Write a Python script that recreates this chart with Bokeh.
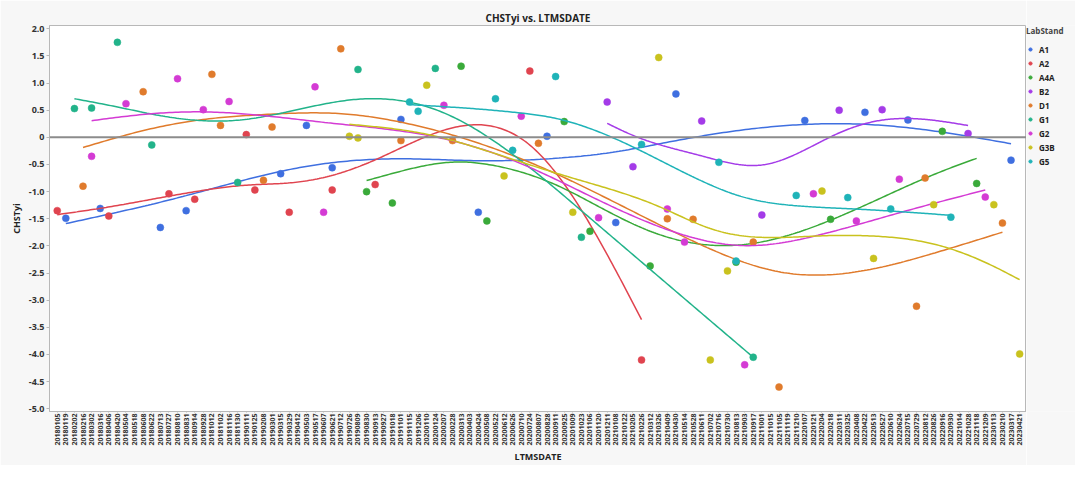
import numpy as np
from bokeh.plotting import figure
from bokeh.layouts import row
from bokeh.models import Range1d, FixedTicker, Span, Legend, LegendItem
from bokeh.embed import file_html
from bokeh.resources import INLINE

dates = [
    "20180105", "20180119", "20180202", "20180216", "20180302", "20180316", "20180406", "20180420",
    "20180504", "20180518", "20180608", "20180622", "20180713", "20180727", "20180810", "20180831",
    "20180914", "20180928", "20181012", "20181102", "20181116", "20181130",
    "20190111", "20190125", "20190208", "20190301", "20190315", "20190329", "20190412", "20190503",
    "20190517", "20190607", "20190621", "20190712", "20190726", "20190809", "20190830", "20190913",
    "20190927", "20191018", "20191101", "20191115", "20191206",
    "20200110", "20200124", "20200207", "20200228", "20200313", "20200403", "20200424", "20200508",
    "20200522", "20200612", "20200626", "20200710", "20200724", "20200807", "20200828", "20200911",
    "20200925", "20201009", "20201023", "20201106", "20201120", "20201211",
    "20210108", "20210122", "20210205", "20210226", "20210312", "20210326", "20210409", "20210430",
    "20210514", "20210528", "20210611", "20210702", "20210716", "20210730", "20210813", "20210903",
    "20210917", "20211001", "20211015", "20211105", "20211119", "20211210",
    "20220107", "20220121", "20220204", "20220218", "20220311", "20220325", "20220408", "20220422",
    "20220513", "20220527", "20220610", "20220624", "20220715", "20220729", "20220812", "20220826",
    "20220916", "20220930", "20221014", "20221028", "20221118", "20221209",
    "20230113", "20230210", "20230317", "20230421",
]

stands = ["A1", "A2", "A4A", "B2", "D1", "G1", "G2", "G3B", "G5"]
colors = ["#3f6fe0", "#e0444f", "#3aaa3a", "#a43be8", "#e07b2c",
          "#22b38a", "#d43bd4", "#c9c21e", "#1fb3b8"]

# x = index into dates, y = CHSTyi
A1_x = [1, 5, 12, 15, 26, 29, 32, 40, 49, 57, 65, 72, 87, 94, 99, 111]
A1_y = [-1.49, -1.31, -1.66, -1.35, -0.67, 0.22, -0.56, 0.33, -1.38, 0.02, -1.57, 0.80, 0.31, 0.46, 0.32, -0.42]
A2_x = [0, 6, 13, 16, 22, 23, 27, 32, 37, 55, 68]
A2_y = [-1.35, -1.45, -1.04, -1.14, 0.05, -0.97, -1.38, -0.97, -0.87, 1.22, -4.10]
A4A_x = [36, 39, 47, 50, 59, 62, 69, 79, 90, 103, 107]
A4A_y = [-1.00, -1.21, 1.31, -1.54, 0.29, -1.73, -2.37, -2.30, -1.51, 0.11, -0.85]
B2_x = [64, 67, 75, 82, 91, 96, 106]
B2_y = [0.65, -0.54, 0.30, -1.43, 0.50, 0.51, 0.07]
D1_x = [3, 10, 18, 19, 24, 25, 33, 40, 46, 56, 71, 74, 81, 84, 100, 101, 110]
D1_y = [-0.90, 0.84, 1.16, 0.22, -0.79, 0.19, 1.63, -0.06, -0.06, -0.11, -1.50, -1.51, -1.93, -4.60, -3.11, -0.75, -1.58]
G1_x = [2, 4, 7, 11, 21, 35, 44, 61, 81]
G1_y = [0.53, 0.54, 1.75, -0.14, -0.83, 1.25, 1.27, -1.84, -4.05]
G2_x = [4, 8, 14, 17, 20, 30, 31, 45, 54, 63, 71, 73, 80, 88, 93, 98, 108]
G2_y = [-0.35, 0.62, 1.08, 0.51, 0.66, 0.93, -1.38, 0.59, 0.39, -1.48, -1.32, -1.93, -4.19, -1.04, -1.54, -0.77, -1.10]
G3B_x = [34, 35, 43, 52, 60, 70, 76, 78, 89, 95, 102, 109, 112]
G3B_y = [0.02, -0.01, 0.96, -0.71, -1.38, 1.47, -4.10, -2.46, -0.99, -2.23, -1.24, -1.24, -3.99]
G5_x = [41, 42, 51, 53, 58, 68, 77, 79, 86, 92, 97, 104]
G5_y = [0.65, 0.48, 0.71, -0.24, 1.12, -0.13, -0.46, -2.28, -1.07, -1.11, -1.32, -1.47]

series = {
    "A1": (A1_x, A1_y), "A2": (A2_x, A2_y), "A4A": (A4A_x, A4A_y),
    "B2": (B2_x, B2_y), "D1": (D1_x, D1_y), "G1": (G1_x, G1_y),
    "G2": (G2_x, G2_y), "G3B": (G3B_x, G3B_y), "G5": (G5_x, G5_y),
}

y_ticks = [2.0, 1.5, 1.0, 0.5, 0.0, -0.5, -1.0, -1.5, -2.0, -2.5, -3.0, -3.5, -4.0, -4.5, -5.0]
LAMBDA0 = 0.05   # smoother lambda on standardised x


def smooth_fit(xs, ys, lam0, n=300):
    """Cubic smoothing-spline style fit (penalised on a fine grid), x standardised."""
    xs = np.asarray(xs, float)
    ys = np.asarray(ys, float)
    lam = lam0 * xs.std() ** 3
    g = np.linspace(xs.min(), xs.max(), n)
    h = g[1] - g[0]
    W = np.zeros((len(xs), n))
    for k, x in enumerate(xs):
        j = min(int((x - g[0]) / h), n - 2)
        t = (x - g[j]) / h
        W[k, j] += 1 - t
        W[k, j + 1] += t
    D = np.zeros((n - 2, n))
    for i in range(n - 2):
        D[i, i], D[i, i + 1], D[i, i + 2] = 1.0, -2.0, 1.0
    D /= h ** 2
    A = W.T @ W + lam * h * (D.T @ D)
    f = np.linalg.solve(A, W.T @ ys)
    return g, f


BG = "#f7f7f7"
p = figure(width=1026, height=465, output_backend="svg", toolbar_location=None,
           x_range=Range1d(-0.9, 112.8), y_range=Range1d(-5.05, 2.06),
           min_border_left=49, min_border_right=0, min_border_top=19, min_border_bottom=4,
           title="CHSTyi vs. LTMSDATE")
p.background_fill_color = "white"
p.border_fill_color = BG
p.outline_line_color = "#b8b8b8"
p.grid.visible = False

p.title.align = "center"
p.title.text_font = "Open Sans"
p.title.text_font_size = "10px"
p.title.text_font_style = "bold"
p.title.text_color = "#222222"
p.title.standoff = 2

p.add_layout(Span(location=0, dimension="width", line_color="#8c8c8c", line_width=2))

lg = figure(width=49, height=465, output_backend="svg", toolbar_location=None,
            x_range=Range1d(0, 1), y_range=Range1d(0, 1),
            min_border_left=0, min_border_right=0, min_border_top=25, min_border_bottom=0)
lg.axis.visible = False
lg.grid.visible = False
lg.outline_line_color = None
lg.background_fill_color = BG
lg.border_fill_color = BG

legend_items = []
for name, col in zip(stands, colors):
    xs, ys = series[name]
    gx, gy = smooth_fit(xs, ys, LAMBDA0)
    p.line(gx, gy, line_color=col, line_width=1.5)
    p.scatter(xs, ys, size=7, fill_color=col, line_color=col, line_alpha=0.5)
    # off-canvas proxy marker, used only to draw the legend swatch
    proxy = lg.scatter([-10], [-10], size=5, fill_color=col, line_color=col)
    legend_items.append(LegendItem(label=name, renderers=[proxy]))

# axes
p.yaxis.ticker = FixedTicker(ticks=y_ticks)
p.yaxis.major_label_overrides = {t: ("0" if t == 0 else f"{t:.1f}") for t in y_ticks}
p.yaxis.axis_label = "CHSTyi"
p.xaxis.ticker = FixedTicker(ticks=list(range(len(dates))))
p.xaxis.major_label_overrides = {i: d for i, d in enumerate(dates)}
p.xaxis.major_label_orientation = np.pi / 2
p.xaxis.axis_label = "LTMSDATE"
for ax in (p.xaxis[0], p.yaxis[0]):
    ax.axis_line_color = "#b8b8b8"
    ax.major_tick_line_color = "#b8b8b8"
    ax.minor_tick_line_color = None
    ax.major_tick_out = 3
    ax.major_tick_in = 0
    ax.axis_label_text_font = "Open Sans"
    ax.axis_label_text_font_style = "bold"
    ax.axis_label_text_font_size = "9px"
    ax.axis_label_text_color = "#222222"
    ax.major_label_text_font = "Open Sans"
    ax.major_label_text_font_style = "bold"
    ax.major_label_text_color = "#333333"
p.yaxis.major_label_text_font_size = "9px"
p.yaxis.major_label_standoff = 2
p.yaxis.axis_label_standoff = 3
p.xaxis.major_tick_out = 1
p.xaxis.major_label_text_font_size = "7px"
p.xaxis.major_label_standoff = 1
p.xaxis.axis_label_standoff = 1

legend = Legend(items=legend_items, title="LabStand")
legend.title_text_font = "Open Sans"
legend.title_text_font_size = "8px"
legend.title_text_font_style = "bold"
legend.title_standoff = 7
legend.label_text_font = "Open Sans"
legend.label_text_font_size = "8px"
legend.label_text_font_style = "bold"
legend.label_text_color = "#222222"
legend.glyph_width = 8
legend.glyph_height = 12
legend.label_height = 12
legend.label_standoff = 5
legend.spacing = 2
legend.padding = 3
legend.margin = 0
legend.border_line_color = None
legend.background_fill_alpha = 0
legend.location = "top_left"
lg.add_layout(legend)

open("out.html", "w").write(file_html(row(p, lg, spacing=0), INLINE))
